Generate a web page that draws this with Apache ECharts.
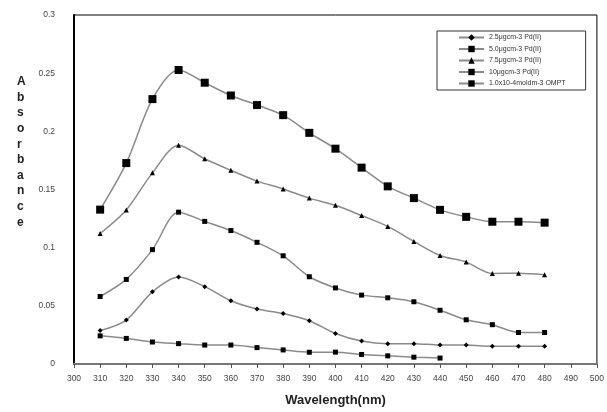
<!DOCTYPE html>
<html>
<head>
<meta charset="utf-8">
<script src="https://cdn.jsdelivr.net/npm/echarts@6/dist/echarts.min.js"></script>
<style>html,body{margin:0;padding:0;background:#fff}#c{width:607px;height:412px}</style>
</head>
<body>
<div id="c"></div>
<script>
var wavelengths = [310,320,330,340,350,360,370,380,390,400,410,420,430,440,450,460,470,480];
var seriesNames = ['2.5μgcm-3 Pd(II)','5.0μgcm-3 Pd(II)','7.5μgcm-3 Pd(II)','10μgcm-3 Pd(II)','1.0x10-4moldm-3 OMPT'];
var pd25 = [0.0287,0.0378,0.0620,0.0747,0.0665,0.0544,0.0473,0.0434,0.0372,0.0262,0.0197,0.0175,0.0175,0.0163,0.0163,0.0152,0.0152,0.0152];
var pd50 = [0.1327,0.1727,0.2277,0.2527,0.2418,0.2308,0.2226,0.2139,0.1987,0.1851,0.1688,0.1527,0.1426,0.1325,0.1265,0.1223,0.1223,0.1215];
var pd75 = [0.1122,0.1324,0.1643,0.1880,0.1764,0.1665,0.1572,0.1505,0.1426,0.1364,0.1276,0.1183,0.1054,0.0933,0.0876,0.0778,0.0780,0.0767];
var pd10 = [0.0580,0.0727,0.0983,0.1305,0.1226,0.1147,0.1046,0.0930,0.0750,0.0654,0.0592,0.0569,0.0535,0.0462,0.0380,0.0338,0.0271,0.0271];
var ompt = [0.0242,0.0220,0.0189,0.0175,0.0163,0.0163,0.0141,0.0121,0.0101,0.0102,0.0082,0.0070,0.0059,0.0051];
var xTicks = {min:300, max:500, step:10};
var yTicks = {min:0, max:0.3, step:0.05};

function pairs(vals){ return vals.map(function(v,i){ return [wavelengths[i], v]; }); }
var valueSets = [pd25, pd50, pd75, pd10, ompt];
var symbols = [['diamond',5],['rect',8],['triangle',5],['rect',5],['rect',5]];

var chart = echarts.init(document.getElementById('c'), null, {renderer:'canvas'});
var series = valueSets.map(function(vals, k){
  return {
    name: seriesNames[k], type:'line', data: pairs(vals), smooth:0.3,
    symbol: symbols[k][0], symbolSize: symbols[k][1], showAllSymbol:true,
    itemStyle:{color:'#000'},
    lineStyle:{color:'#8a8a8a', width:1.5},
    emphasis:{disabled:true}, animation:false, z: 3
  };
});

chart.setOption({
  animation:false,
  backgroundColor:'#fff',
  grid:{left:74, right:7, top:15, bottom:42, show:true, borderColor:'#000', borderWidth:1, backgroundColor:'transparent'},
  legend:{
    orient:'vertical', left:437, top:31,
    padding:[3,20,3,21], itemWidth:25, itemHeight:8, itemGap:4.5,
    borderColor:'#333', borderWidth:1, backgroundColor:'#fff',
    textStyle:{fontSize:7, color:'#333', fontFamily:'Liberation Sans, Arial'},
    data: seriesNames
  },
  xAxis:{
    type:'value', min:xTicks.min, max:xTicks.max, interval:xTicks.step,
    axisLine:{lineStyle:{color:'#777', width:2}},
    axisTick:{show:true, inside:false, length:4, lineStyle:{color:'#555'}},
    axisLabel:{fontSize:8.5, color:'#444', margin:10, fontFamily:'Liberation Sans, Arial'},
    splitLine:{show:false},
    name:'Wavelength(nm)', nameLocation:'middle', nameGap:30,
    nameTextStyle:{fontSize:13, fontWeight:'bold', color:'#222', fontFamily:'Liberation Sans, Arial'}
  },
  yAxis:{
    type:'value', min:yTicks.min, max:yTicks.max, interval:yTicks.step,
    axisLine:{show:true, lineStyle:{color:'#000', width:2}},
    axisTick:{show:false},
    axisLabel:{fontSize:8.5, color:'#444', margin:19, fontFamily:'Liberation Sans, Arial'},
    splitLine:{show:false}
  },
  graphic:[{
    type:'text', left:17, top:74,
    style:{text:'A\nb\ns\no\nr\nb\na\nn\nc\ne', font:'bold 12px Liberation Sans, Arial', fill:'#222', lineHeight:15.6, align:'center'}
  }],
  series: series
});
</script>
</body>
</html>
